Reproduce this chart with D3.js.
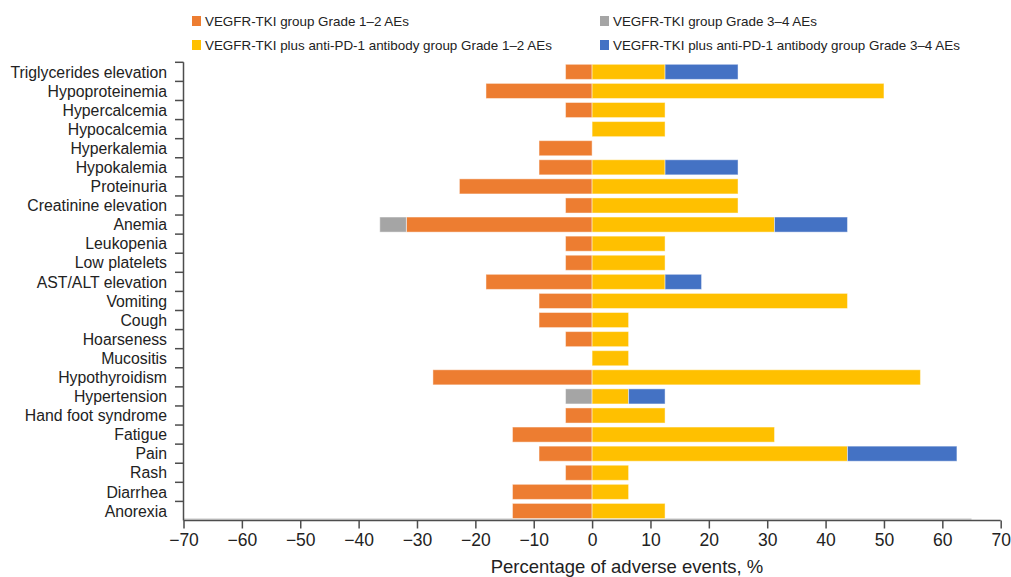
<!DOCTYPE html>
<html>
<head>
<meta charset="utf-8">
<script src="https://cdn.jsdelivr.net/npm/d3@7"></script>
<style>
  body { margin: 0; background: #fff; }
  svg { display: block; font-family: "Liberation Sans", Arial, sans-serif; }
</style>
</head>
<body>
<svg id="chart" width="1011" height="577"></svg>
<script>
const categories = ["Triglycerides elevation","Hypoproteinemia","Hypercalcemia","Hypocalcemia","Hyperkalemia","Hypokalemia","Proteinuria","Creatinine elevation","Anemia","Leukopenia","Low platelets","AST/ALT elevation","Vomiting","Cough","Hoarseness","Mucositis","Hypothyroidism","Hypertension","Hand foot syndrome","Fatigue","Pain","Rash","Diarrhea","Anorexia"];
const tkiGrade12   = [4.55,18.18,4.55,0,9.09,9.09,22.73,4.55,31.82,4.55,4.55,18.18,9.09,9.09,4.55,0,27.27,0,4.55,13.64,9.09,4.55,13.64,13.64];
const tkiGrade34   = [0,0,0,0,0,0,0,0,4.55,0,0,0,0,0,0,0,0,4.55,0,0,0,0,0,0];
const comboGrade12 = [12.5,50,12.5,12.5,0,12.5,25,25,31.25,12.5,12.5,12.5,43.75,6.25,6.25,6.25,56.25,6.25,12.5,31.25,43.75,6.25,6.25,12.5];
const comboGrade34 = [12.5,0,0,0,0,12.5,0,0,12.5,0,0,6.25,0,0,0,0,0,6.25,0,0,18.75,0,0,0];
const xTicks = [-70,-60,-50,-40,-30,-20,-10,0,10,20,30,40,50,60,70];
const seriesNames = ["VEGFR-TKI group Grade 1–2 AEs","VEGFR-TKI group Grade 3–4 AEs","VEGFR-TKI plus anti-PD-1 antibody group Grade 1–2 AEs","VEGFR-TKI plus anti-PD-1 antibody group Grade 3–4 AEs"];
const seriesColors = ["#ED7D31","#A5A5A5","#FFC000","#4472C4"];
const xTitle = "Percentage of adverse events, %";

(function () {
const svg = d3.select("#chart");
const pL = 183.5, pR = 1000.7, pT = 62.3, pB = 520.5;

const x = d3.scaleLinear().domain([-70, 70]).range([pL, pR]);
const y = d3.scaleBand().domain(categories).range([pT, pB]).paddingInner(0.21).paddingOuter(0.105);

// light gray baseline line
svg.append("line")
  .attr("x1", x(-70)).attr("x2", x(65))
  .attr("y1", pB - 1.3).attr("y2", pB - 1.3)
  .attr("stroke", "#d9d9d9").attr("stroke-width", 2);

// segments
const segs = [];
categories.forEach((c, i) => {
  const a = tkiGrade12[i], b = tkiGrade34[i], p = comboGrade12[i], q = comboGrade34[i];
  if (a > 0) segs.push({c, x0: -a, x1: 0, col: seriesColors[0]});
  if (b > 0) segs.push({c, x0: -(a + b), x1: -a, col: seriesColors[1]});
  if (p > 0) segs.push({c, x0: 0, x1: p, col: seriesColors[2]});
  if (q > 0) segs.push({c, x0: p, x1: p + q, col: seriesColors[3]});
});

svg.append("g").selectAll("rect").data(segs).join("rect")
  .attr("x", d => x(d.x0))
  .attr("width", d => x(d.x1) - x(d.x0))
  .attr("y", d => y(d.c))
  .attr("height", y.bandwidth())
  .attr("fill", d => d.col)
  .attr("stroke", "rgba(255,255,255,0.45)")
  .attr("stroke-width", 1);

// y axis
const axisColor = "#4d4d4d";
svg.append("line")
  .attr("x1", pL).attr("x2", pL).attr("y1", pT).attr("y2", pB)
  .attr("stroke", axisColor).attr("stroke-width", 1.5);
const bounds = d3.range(categories.length).map(i => pT + i * (pB - pT) / categories.length);
svg.append("g").selectAll("line").data(bounds).join("line")
  .attr("x1", pL - 8.5).attr("x2", pL)
  .attr("y1", d => d).attr("y2", d => d)
  .attr("stroke", axisColor).attr("stroke-width", 1.5);
svg.append("g").selectAll("text").data(categories).join("text")
  .attr("x", 167)
  .attr("y", d => y(d) + y.bandwidth() / 2)
  .attr("dy", "0.36em")
  .attr("text-anchor", "end")
  .attr("font-size", 15.8)
  .attr("fill", "#222")
  .text(d => d);

// x axis
const xAxis = d3.axisBottom(x).tickValues(xTicks).tickSize(8)
  .tickFormat(d => d < 0 ? "\u2212" + Math.abs(d) : String(d));
const gx = svg.append("g").attr("transform", `translate(0,${pB})`).call(xAxis);
gx.select(".domain").attr("stroke", axisColor).attr("stroke-width", 1.5).attr("d", `M${pL},0H${pR}`);
gx.selectAll(".tick line").attr("stroke", axisColor).attr("stroke-width", 1.5);
gx.selectAll(".tick text").attr("font-size", 17.5).attr("fill", "#222").attr("y", 13)
  .attr("font-family", "'Liberation Sans', Arial, sans-serif");

svg.append("text")
  .attr("x", 627).attr("y", 573)
  .attr("text-anchor", "middle")
  .attr("font-size", 18.5)
  .attr("fill", "#222")
  .text(xTitle);

// legend
const legendPos = [[192, 21], [600, 21], [192, 45], [600, 45]];
const lg = svg.append("g").selectAll("g").data(seriesNames).join("g")
  .attr("transform", (d, i) => `translate(${legendPos[i][0]},${legendPos[i][1]})`);
lg.append("rect").attr("x", 0).attr("y", -5).attr("width", 9).attr("height", 10)
  .attr("fill", (d, i) => seriesColors[i]);
lg.append("text").attr("x", 13).attr("y", 0).attr("dy", "0.36em")
  .attr("font-size", 13.4).attr("fill", "#222").text(d => d);
})();
</script>
</body>
</html>
